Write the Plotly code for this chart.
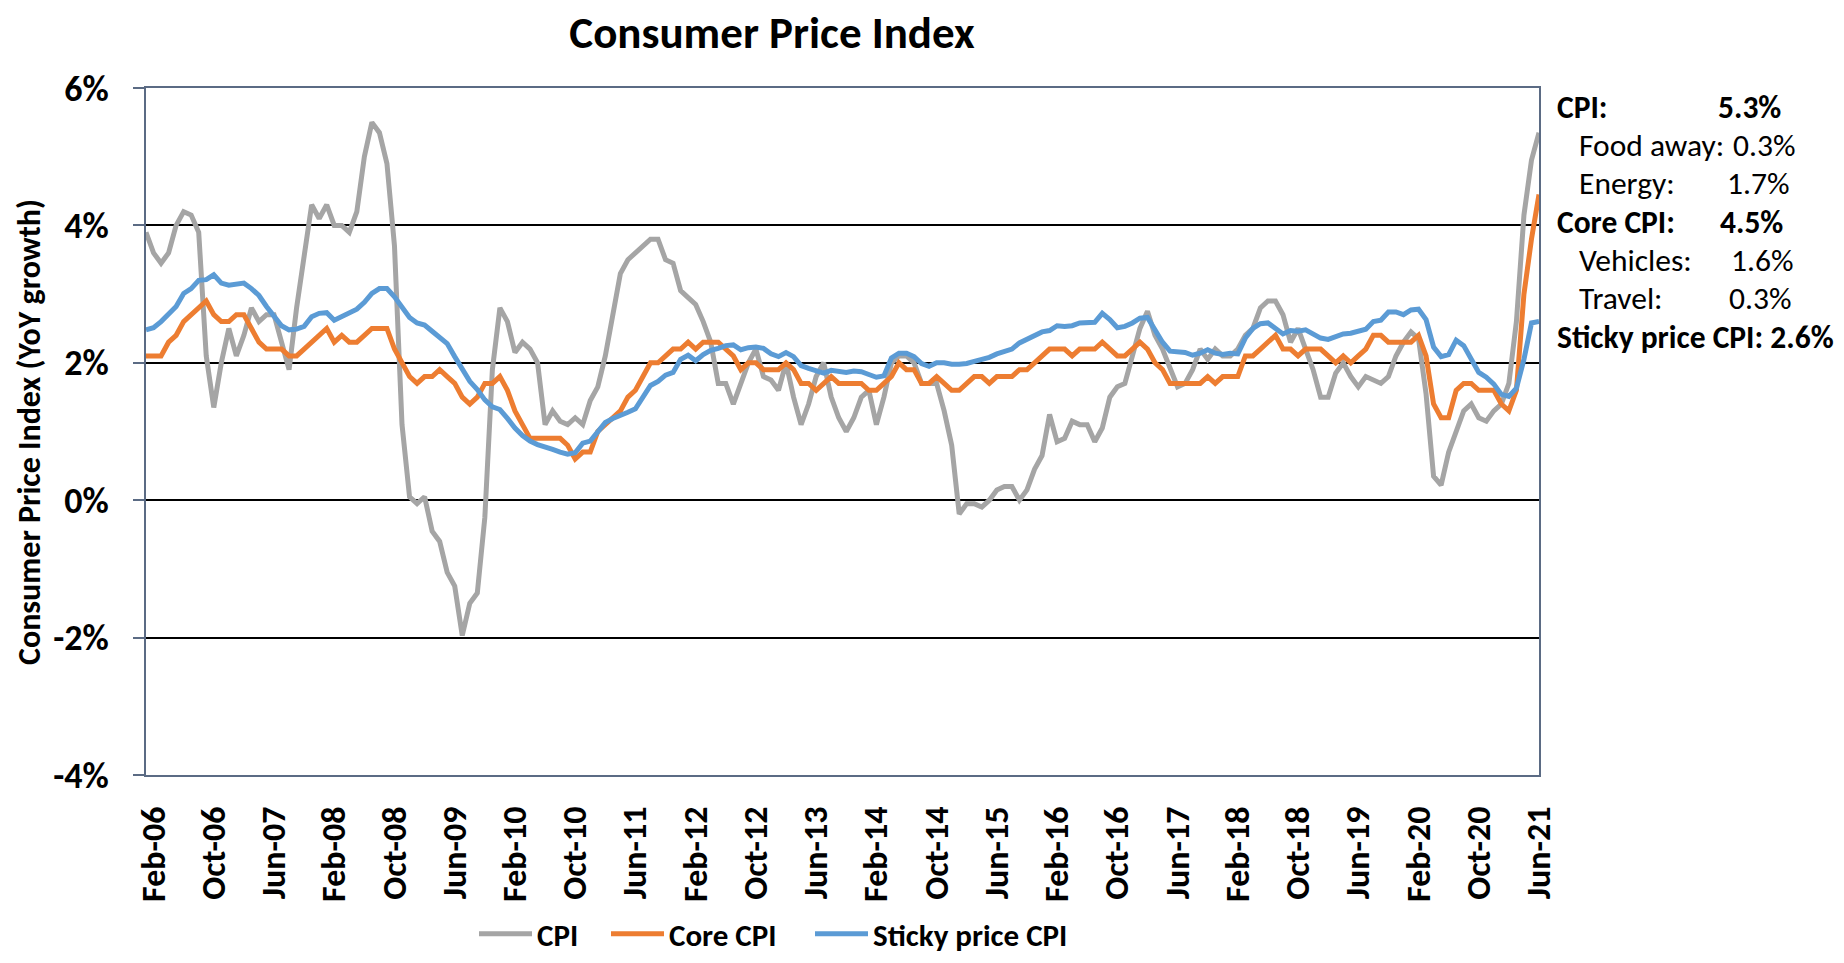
import pandas as pd
import plotly.graph_objects as go

# ---------------- data ----------------
months = pd.date_range("2006-01-01", "2021-06-01", freq="MS").strftime("%b-%y").tolist()
tick_labels = months[1::8]  # Feb-06, Oct-06, ... Jun-21

y_tick_values = [-4, -2, 0, 2, 4, 6]
y_tick_text = ["-4%", "-2%", "0%", "2%", "4%", "6%"]

cpi = [
    3.9, 3.6, 3.45, 3.6, 4.0, 4.2, 4.15, 3.9, 2.1, 1.35, 2.0, 2.5,
    2.1, 2.4, 2.8, 2.6, 2.7, 2.7, 2.3, 1.9, 2.8, 3.5, 4.3, 4.1,
    4.3, 4.0, 4.0, 3.9, 4.2, 5.0, 5.5, 5.35, 4.9, 3.7, 1.1, 0.05,
    -0.05, 0.05, -0.45, -0.6, -1.05, -1.25, -1.97, -1.5, -1.35, -0.25, 1.9, 2.8,
    2.6, 2.15, 2.3, 2.2, 2.0, 1.1, 1.3, 1.15, 1.1, 1.2, 1.1, 1.45,
    1.65, 2.1, 2.7, 3.3, 3.5, 3.6, 3.7, 3.8, 3.8, 3.5, 3.45, 3.05,
    2.95, 2.85, 2.6, 2.3, 1.7, 1.7, 1.4, 1.7, 2.0, 2.2, 1.8, 1.75,
    1.6, 2.0, 1.5, 1.1, 1.4, 1.8, 2.0, 1.5, 1.2, 1.0, 1.2, 1.5,
    1.6, 1.1, 1.5, 2.0, 2.1, 2.1, 2.0, 1.7, 1.7, 1.7, 1.3, 0.8,
    -0.2, -0.05, -0.05, -0.1, 0.0, 0.15, 0.2, 0.2, 0.0, 0.15, 0.45, 0.65,
    1.25, 0.85, 0.9, 1.15, 1.1, 1.1, 0.85, 1.05, 1.5, 1.65, 1.7, 2.1,
    2.5, 2.75, 2.4, 2.2, 1.9, 1.65, 1.7, 1.9, 2.2, 2.05, 2.2, 2.1,
    2.1, 2.2, 2.4, 2.5, 2.8, 2.9, 2.9, 2.7, 2.3, 2.5, 2.2, 1.9,
    1.5, 1.5, 1.85, 2.0, 1.8, 1.65, 1.8, 1.75, 1.7, 1.8, 2.1, 2.3,
    2.45, 2.35, 1.55, 0.35, 0.22, 0.7, 1.0, 1.3, 1.4, 1.2, 1.15, 1.3,
    1.4, 1.7, 2.6, 4.15, 4.95, 5.35,
]

core_cpi = [
    2.1, 2.1, 2.1, 2.3, 2.4, 2.6, 2.7, 2.8, 2.9, 2.7, 2.6, 2.6,
    2.7, 2.7, 2.5, 2.3, 2.2, 2.2, 2.2, 2.1, 2.1, 2.2, 2.3, 2.4,
    2.5, 2.3, 2.4, 2.3, 2.3, 2.4, 2.5, 2.5, 2.5, 2.2, 2.0, 1.8,
    1.7, 1.8, 1.8, 1.9, 1.8, 1.7, 1.5, 1.4, 1.5, 1.7, 1.7, 1.8,
    1.6, 1.3, 1.1, 0.9, 0.9, 0.9, 0.9, 0.9, 0.8, 0.6, 0.7, 0.7,
    1.0, 1.1, 1.2, 1.3, 1.5, 1.6, 1.8, 2.0, 2.0, 2.1, 2.2, 2.2,
    2.3, 2.2, 2.3, 2.3, 2.3, 2.2, 2.1, 1.9, 2.0, 2.0, 1.9, 1.9,
    1.9, 2.0, 1.9, 1.7, 1.7, 1.6, 1.7, 1.8, 1.7, 1.7, 1.7, 1.7,
    1.6, 1.6, 1.7, 1.8, 2.0, 1.9, 1.9, 1.7, 1.7, 1.8, 1.7, 1.6,
    1.6, 1.7, 1.8, 1.8, 1.7, 1.8, 1.8, 1.8, 1.9, 1.9, 2.0, 2.1,
    2.2, 2.2, 2.2, 2.1, 2.2, 2.2, 2.2, 2.3, 2.2, 2.1, 2.1, 2.2,
    2.3, 2.2, 2.0, 1.9, 1.7, 1.7, 1.7, 1.7, 1.7, 1.8, 1.7, 1.8,
    1.8, 1.8, 2.1, 2.1, 2.2, 2.3, 2.4, 2.2, 2.2, 2.1, 2.2, 2.2,
    2.2, 2.1, 2.0, 2.1, 2.0, 2.1, 2.2, 2.4, 2.4, 2.3, 2.3, 2.3,
    2.3, 2.4, 2.1, 1.4, 1.2, 1.2, 1.6, 1.7, 1.7, 1.6, 1.6, 1.6,
    1.4, 1.3, 1.6, 3.0, 3.8, 4.45,
]

sticky_cpi = [
    2.48, 2.51, 2.60, 2.72, 2.82, 3.01, 3.08, 3.20, 3.21, 3.28, 3.16, 3.13,
    3.15, 3.16, 3.08, 2.98, 2.82, 2.67, 2.54, 2.48, 2.49, 2.53, 2.67, 2.72,
    2.73, 2.62, 2.68, 2.72, 2.78, 2.88, 3.01, 3.08, 3.08, 2.96, 2.80, 2.66,
    2.58, 2.55, 2.46, 2.37, 2.28, 2.09, 1.92, 1.73, 1.61, 1.46, 1.36, 1.32,
    1.19, 1.05, 0.94, 0.86, 0.81, 0.78, 0.74, 0.70, 0.67, 0.69, 0.83, 0.86,
    1.00, 1.13, 1.19, 1.23, 1.28, 1.33, 1.51, 1.67, 1.73, 1.82, 1.86, 2.05,
    2.11, 2.03, 2.12, 2.18, 2.21, 2.25, 2.26, 2.19, 2.22, 2.23, 2.21, 2.13,
    2.09, 2.15, 2.09, 1.96, 1.92, 1.88, 1.85, 1.89, 1.88, 1.86, 1.88, 1.87,
    1.83, 1.79, 1.81, 2.07, 2.14, 2.14, 2.09, 1.99, 1.95, 2.00, 2.00, 1.98,
    1.98, 1.99, 2.02, 2.05, 2.08, 2.13, 2.16, 2.20, 2.29, 2.35, 2.41, 2.45,
    2.47, 2.54, 2.53, 2.54, 2.58, 2.58, 2.59, 2.72, 2.63, 2.51, 2.53, 2.58,
    2.65, 2.66, 2.48, 2.30, 2.17, 2.16, 2.15, 2.11, 2.14, 2.19, 2.14, 2.12,
    2.14, 2.13, 2.36, 2.50, 2.57, 2.58, 2.51, 2.42, 2.47, 2.46, 2.48, 2.43,
    2.36, 2.34, 2.38, 2.42, 2.43, 2.46, 2.49, 2.60, 2.62, 2.74, 2.74, 2.70,
    2.77, 2.78, 2.63, 2.23, 2.09, 2.12, 2.33, 2.25, 2.07, 1.86, 1.79, 1.69,
    1.54, 1.51, 1.63, 2.05, 2.58, 2.60,
]

series_names = ["CPI", "Core CPI", "Sticky price CPI"]
series_colors = ["#A5A5A5", "#ED7D31", "#5B9BD5"]

# right-hand summary panel: (label, value, bold, indented)
panel_rows = [
    ("CPI:", "5.3%", True, False),
    ("Food away:", "0.3%", False, True),
    ("Energy:", "1.7%", False, True),
    ("Core CPI:", "4.5%", True, False),
    ("Vehicles:", "1.6%", False, True),
    ("Travel:", "0.3%", False, True),
    ("Sticky price CPI:", "2.6%", True, False),
]

# ---------------- layout geometry (window pixels) ----------------
PAGE_OFFSET = 8                 # default body margin of the html page
W, H = 1844 - 2 * PAGE_OFFSET, 963 - 2 * PAGE_OFFSET
L, R, T, B = 146, 1539, 88, 775  # plot area in window pixels
FONT = "Calibri, Carlito, Lato, sans-serif"
SLATE = "#5B6B84"


def px_x(px):
    return (px - L) / (R - L)


def px_y(py):
    return (B - py) / (B - T)


legend_ids = ["legend", "legend2", "legend3"]
legend_left_px = [474, 606, 810]   # left edge of each legend entry box

fig = go.Figure()
for name, color, vals, lid in zip(series_names, series_colors,
                                  [cpi, core_cpi, sticky_cpi], legend_ids):
    fig.add_trace(go.Scatter(x=months, y=vals, name=name, mode="lines",
                             line=dict(color=color, width=5), legend=lid))

legend_style = dict(orientation="h", xanchor="left", yanchor="middle", y=px_y(934),
                    font=dict(size=31, weight="bold", family=FONT, color="black"),
                    bgcolor="rgba(0,0,0,0)", itemwidth=53, borderwidth=0)

fig.update_layout(
    width=W, height=H,
    margin=dict(l=L - PAGE_OFFSET, r=W - (R - PAGE_OFFSET), t=T - PAGE_OFFSET,
                b=H - (B - PAGE_OFFSET), autoexpand=False),
    template="none",
    paper_bgcolor="white", plot_bgcolor="white",
    font=dict(family=FONT, color="black"),
    title=dict(text="Consumer Price Index", x=(772 - PAGE_OFFSET) / W, xref="container",
               xanchor="center", y=1 - 8 / H, yref="container", yanchor="top",
               font=dict(size=45, weight="bold", family=FONT, color="black")),
    showlegend=True,
    legend=dict(x=px_x(legend_left_px[0]), **legend_style),
    legend2=dict(x=px_x(legend_left_px[1]), **legend_style),
    legend3=dict(x=px_x(legend_left_px[2]), **legend_style),
    xaxis=dict(type="category", range=[0, len(months) - 1],
               tickmode="array", tickvals=tick_labels, ticktext=tick_labels,
               tickangle=-90, tickfont=dict(size=34, weight="bold", family=FONT),
               showgrid=False, zeroline=False,
               showline=True, linecolor=SLATE, linewidth=2, mirror=True,
               ticks="", ticklabelstandoff=16, automargin=False),
    yaxis=dict(range=[-4, 6], tickmode="array", tickvals=y_tick_values,
               ticktext=y_tick_text,
               tickfont=dict(size=36, weight="bold", family=FONT),
               showgrid=True, gridcolor="black", gridwidth=1.5, zeroline=False,
               showline=True, linecolor=SLATE, linewidth=2, mirror=True,
               ticks="outside", ticklen=11, tickwidth=2, tickcolor=SLATE,
               ticklabelstandoff=17, automargin=False),
)

# y-axis title
fig.add_annotation(text="Consumer Price Index (YoY growth)", textangle=-90,
                   xref="paper", yref="paper", x=px_x(29), y=px_y(432),
                   xanchor="center", yanchor="middle", showarrow=False,
                   font=dict(size=32, weight="bold", family=FONT, color="black"))

# right-hand panel
row_y = [107, 145, 183, 222, 260, 298, 337]
value_x = [1716, 1731, 1725, 1718, 1729, 1727, None]
for (label, value, bold, indent), yy, vx in zip(panel_rows, row_y, value_x):
    weight = "bold" if bold else "normal"
    lx = 1577 if indent else 1555
    font = dict(size=31.5, weight=weight, family=FONT, color="black")
    if vx is None:
        fig.add_annotation(text=f"{label} {value}", xref="paper", yref="paper",
                           x=px_x(lx), y=px_y(yy), xanchor="left", yanchor="middle",
                           showarrow=False, font=font)
    else:
        fig.add_annotation(text=label, xref="paper", yref="paper",
                           x=px_x(lx), y=px_y(yy), xanchor="left", yanchor="middle",
                           showarrow=False, font=font)
        fig.add_annotation(text=value, xref="paper", yref="paper",
                           x=px_x(vx), y=px_y(yy), xanchor="left", yanchor="middle",
                           showarrow=False, font=font)

fig.write_html("out.html")
